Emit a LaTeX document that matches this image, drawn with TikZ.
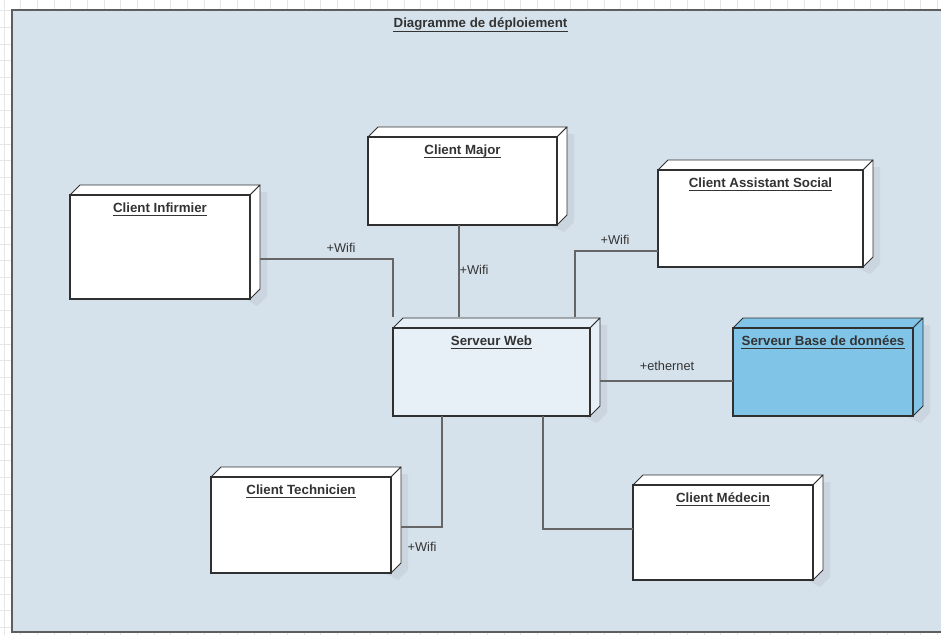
\documentclass[tikz,border=0pt]{standalone}
\usepackage{fontspec}
\setmainfont{Liberation Sans}
\usetikzlibrary{calc}

\definecolor{canvas}{HTML}{D6E2EB}
\definecolor{shadowc}{HTML}{CAD5DF}
\definecolor{gridc}{HTML}{E6E6E6}
\definecolor{edgec}{HTML}{303030}
\definecolor{framec}{HTML}{5E5E5E}
\definecolor{wirec}{HTML}{666666}
\definecolor{webfill}{HTML}{E8F0F7}
\definecolor{dbfill}{HTML}{80C5E8}
\definecolor{textc}{HTML}{333333}

\tikzset{
  boxface/.style={draw=edgec, line width=1.3pt, inner sep=0pt, outer sep=0pt, rectangle},
  boxside/.style={draw=edgec, line width=0.9pt, line join=round},
  boxtitle/.style={font=\fontsize{13.3}{15}\selectfont\bfseries, text=textc, anchor=base, inner sep=0pt},
  titlerule/.style={draw=textc, line width=1pt},
  wire/.style={draw=wirec, line width=1.3pt},
  wirelabel/.style={font=\fontsize{12.8}{14}\selectfont, text=textc, anchor=base, inner sep=0pt},
  framebox/.style={draw=framec, fill=canvas, line width=1.5pt},
  gridline/.style={draw=gridc, line width=0.6pt},
}

% 3D deployment node: name, left, top, right, bottom, fill, title
\newcommand{\deploybox}[7]{%
  \fill[shadowc] (#2+7,#3+7) -- (#2+17,#3-3) -- (#4+17,#3-3) -- (#4+17,#5-3) -- (#4+7,#5+7) -- cycle;
  \filldraw[boxside, fill=#6] (#2,#3) -- (#2+10,#3-10) -- (#4+10,#3-10) -- (#4,#3) -- cycle;
  \filldraw[boxside, fill=#6] (#4,#3) -- (#4+10,#3-10) -- (#4+10,#5-10) -- (#4,#5) -- cycle;
  \node[boxface, fill=#6, minimum width={(#4-#2)*1pt}, minimum height={(#5-#3)*1pt}]
    (#1) at ({(#2+#4)/2},{(#3+#5)/2}) {};
  \node[boxtitle] (#1-title) at ({(#2+#4)/2},#3+17) {#7};
  \draw[titlerule] ($(#1-title.base west)+(0,3.5)$) -- ($(#1-title.base east)+(0,3.5)$);
}

\begin{document}
\begin{tikzpicture}[x=1pt, y=-1pt]
  \useasboundingbox (0,0) rectangle (941,635);
  \clip (0,0) rectangle (941,635);

  % drawing sheet with its grid
  \fill[white] (0,0) rectangle (941,635);
  \foreach \gx in {0,...,56} {\draw[gridline] (4+16.667*\gx,0) -- (4+16.667*\gx,635);}
  \foreach \gy in {-1,...,38} {\draw[gridline] (0,10.67+16.667*\gy) -- (941,10.67+16.667*\gy);}

  % diagram frame
  \draw[framebox] (12,10) rectangle (960,632);
  \node[boxtitle] (frametitle) at (480.5,27.5) {Diagramme de déploiement};
  \draw[titlerule] ($(frametitle.base west)+(0,3.5)$) -- ($(frametitle.base east)+(0,3.5)$);

  % nodes
  \deploybox{major}{368}{137}{557}{225}{white}{Client Major}
  \deploybox{inf}{70}{195}{250}{299}{white}{Client Infirmier}
  \deploybox{assist}{658}{170}{863}{267}{white}{Client Assistant Social}
  \deploybox{web}{393}{328}{590}{416}{webfill}{Serveur Web}
  \deploybox{db}{733}{328}{913}{416}{dbfill}{Serveur Base de données}
  \deploybox{tech}{211}{477}{391}{573}{white}{Client Technicien}
  \deploybox{med}{633}{485}{813}{580}{white}{Client Médecin}

  % communication paths
  \draw[wire] ($(inf.east)+(10,12)$) -| ($(web.north west)+(0,-11)$);
  \draw[wire] (major.south -| 459,0) -- ($(web.north -| 459,0)+(0,-11)$);
  \draw[wire] ($(assist.west)+(0,32.5)$) -| ($(web.north -| 575,0)+(0,-11)$);
  \draw[wire] ($(web.east)+(10,9)$) -- ($(db.west)+(0,9)$);
  \draw[wire] ($(tech.east)+(10,2)$) -| (web.south -| 442,0);
  \draw[wire] (web.south -| 543,0) |- ($(med.west)+(0,-3.5)$);

  % path labels
  \node[wirelabel] (l-inf) at (341,252.5) {+Wifi};
  \node[wirelabel] (l-major) at (474,274.5) {+Wifi};
  \node[wirelabel] (l-assist) at (615,244.5) {+Wifi};
  \node[wirelabel] (l-eth) at (667,370) {+ethernet};
  \node[wirelabel] (l-tech) at (422,551.5) {+Wifi};
\end{tikzpicture}
\end{document}
